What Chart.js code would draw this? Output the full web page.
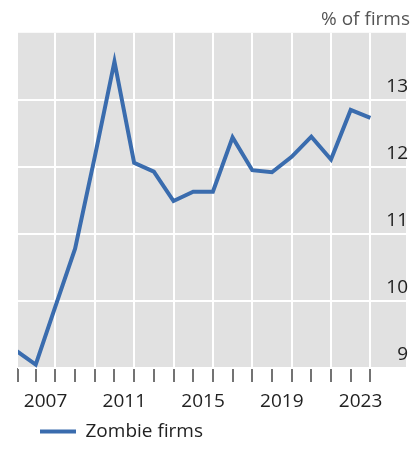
<!DOCTYPE html>
<html>
<head>
<meta charset="utf-8">
<script src="https://cdn.jsdelivr.net/npm/chart.js@4/dist/chart.umd.min.js"></script>
<style>
  html, body { margin: 0; padding: 0; background: #fff; }
  #wrap { width: 410px; height: 450px; }
</style>
</head>
<body>
<div id="wrap"><canvas id="c" width="410" height="450"></canvas></div>
<script>
// Share of zombie firms, plotted at each year boundary
const years = [2006, 2007, 2008, 2009, 2010, 2011, 2012, 2013, 2014, 2015,
               2016, 2017, 2018, 2019, 2020, 2021, 2022, 2023, 2024];
const zombieShare = [9.26, 9.05, 9.92, 10.78, 12.15, 13.57, 12.06, 11.93, 11.49, 11.63,
                     11.63, 12.44, 11.95, 11.92, 12.15, 12.45, 12.11, 12.85, 12.73];
const labelYears = [2007, 2011, 2015, 2019, 2023];
const yTicks = [9, 10, 11, 12, 13, 14];

const seriesName = 'Zombie firms';
const lineColor = '#3a6cae';
const FONT = 'Open Sans';

const xMin = 2006.1;
const xMax = 2025.81;

const points = years.map((y, i) => ({ x: y, y: zombieShare[i] }));

// grey plotting panel
const panelBg = {
  id: 'panelBg',
  beforeDraw(chart) {
    const { ctx, chartArea: a } = chart;
    ctx.save();
    ctx.fillStyle = '#e1e1e1';
    ctx.fillRect(a.left, a.top, a.right - a.left, a.bottom - a.top);
    ctx.restore();
  }
};

const isInt = v => Math.abs(v - Math.round(v)) < 1e-6;

new Chart(document.getElementById('c'), {
  type: 'line',
  data: {
    datasets: [{
      label: seriesName,
      data: points,
      borderColor: lineColor,
      backgroundColor: lineColor,
      borderWidth: 4,
      pointRadius: 0,
      tension: 0,
      clip: 0
    }]
  },
  options: {
    responsive: false,
    animation: false,
    events: [],
    layout: { padding: { left: 18, right: 0, top: 0, bottom: -1 } },
    plugins: {
      title: {
        display: true,
        text: '% of firms',
        align: 'end',
        color: '#555',
        font: { family: FONT, size: 19, weight: 'normal' },
        padding: { top: 8, bottom: 2 }
      },
      legend: {
        position: 'bottom',
        align: 'start',
        labels: {
          boxWidth: 36,
          boxHeight: 4,
          padding: 22,
          color: '#222',
          font: { family: FONT, size: 19 },
          generateLabels(chart) {
            return Chart.defaults.plugins.legend.labels.generateLabels(chart)
              .map(it => Object.assign(it, { lineWidth: 0, fillStyle: lineColor }));
          }
        }
      },
      tooltip: { enabled: false }
    },
    scales: {
      x: {
        type: 'linear',
        min: xMin,
        max: xMax,
        afterBuildTicks(scale) {
          const t = [{ value: xMin }];
          for (let y = 2007; y <= 2024; y++) {
            t.push({ value: y });
            if (y < 2024) t.push({ value: y + 0.5 });
          }
          scale.ticks = t;
        },
        afterFit(scale) { scale.height = 32; },
        border: { display: false },
        grid: {
          drawTicks: true,
          tickLength: 14,
          lineWidth: 2,
          tickWidth: 1.5,
          color: ctx => {
            const v = ctx.tick ? ctx.tick.value : 0;
            return (isInt(v) && Math.round(v) % 2 === 0 && v >= 2008) ? '#ffffff' : 'rgba(0,0,0,0)';
          },
          tickColor: ctx => {
            const v = ctx.tick ? ctx.tick.value : 0;
            return (isInt(v) || v === xMin) ? '#444' : 'rgba(0,0,0,0)';
          }
        },
        ticks: {
          autoSkip: false,
          mirror: true,
          maxRotation: 0,
          minRotation: 0,
          padding: -45,
          color: '#222',
          font: { family: FONT, size: 19 },
          callback: v => labelYears.includes(v - 0.5) ? String(v - 0.5) : ''
        }
      },
      y: {
        position: 'right',
        min: 9,
        max: 14,
        afterBuildTicks(scale) { scale.ticks = yTicks.map(v => ({ value: v })); },
        border: { display: false },
        grid: {
          drawTicks: false,
          lineWidth: 2,
          color: ctx => (ctx.tick && ctx.tick.value === 14) ? 'rgba(0,0,0,0)' : '#ffffff'
        },
        ticks: {
          mirror: true,
          padding: 2,
          labelOffset: -13,
          color: '#222',
          font: { family: FONT, size: 19 },
          callback: v => v === 14 ? '' : String(v)
        }
      }
    }
  },
  plugins: [panelBg]
});
</script>
</body>
</html>
